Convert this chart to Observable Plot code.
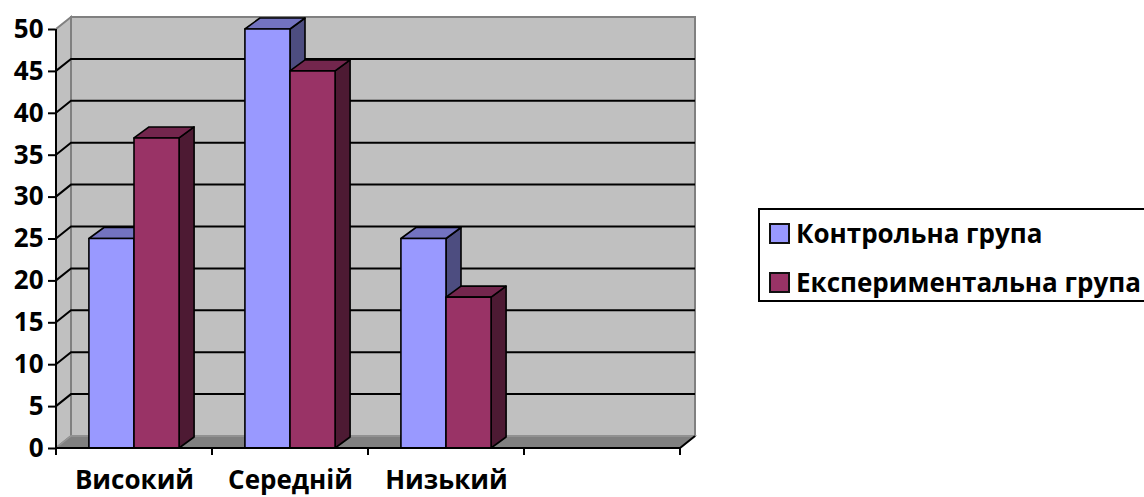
<!DOCTYPE html>
<html>
<head>
<meta charset="utf-8">
<script src="https://cdn.jsdelivr.net/npm/d3@7"></script>
<script src="https://cdn.jsdelivr.net/npm/@observablehq/plot@0.6"></script>
<style>
  html, body { margin: 0; padding: 0; background: #fff; overflow: hidden; }
  #wrap { position: relative; width: 1144px; height: 497px; font-family: "Open Sans", sans-serif; font-weight: bold; overflow: hidden; }
  #chart { position: absolute; left: 0; top: 0; }
  #legend { position: absolute; left: 758px; top: 208px; width: 420px; height: 94px; border: 2px solid #000; box-sizing: border-box; }
  .item { position: absolute; left: 9px; display: flex; align-items: center; white-space: nowrap; font-size: 26px; color: #000; }
  .sw { width: 17px; height: 17px; border: 2px solid #111; margin-right: 6px; }
</style>
</head>
<body>
<div id="wrap"><div id="chart"></div><div id="legend"></div></div>
<script>
const categories = ["Високий", "Середній", "Низький", ""];
const series = ["Контрольна група", "Експериментальна група"];
const control = [25, 50, 25];
const experimental = [37, 45, 18];
const yTicks = [0, 5, 10, 15, 20, 25, 30, 35, 40, 45, 50];
const frontColors = ["#9999FF", "#993366"];
const topColors = ["#7373C0", "#73264D"];
const sideColors = ["#4D4D80", "#4D1A33"];

const values = [control, experimental];
const data = [];
categories.slice(0, 3).forEach((c, i) => {
  series.forEach((s, k) => data.push({category: c, series: s, k, value: values[k][i]}));
});

const WALL = {dx: 15, dy: -12};
const BAR = {dx: 15, dy: -11};
const BAR_START = 0.211, BAR_W = 0.289;

function pts(a) { return a.map(p => p.join(",")).join(" "); }

function walls(index, scales) {
  const x = scales.x, y = scales.y;
  const g = d3.create("svg:g");
  const bw = x.bandwidth();
  const x0 = x(categories[0]), x1 = x(categories[categories.length - 1]) + bw;
  const yb = y(0), yt = y(50);
  const {dx, dy} = WALL;
  g.append("rect").attr("x", x0 + dx).attr("y", yt + dy).attr("width", x1 - x0).attr("height", yb - yt)
    .attr("fill", "#C0C0C0").attr("stroke", "#808080").attr("stroke-width", 2);
  g.append("polygon").attr("points", pts([[x0, yb], [x0, yt], [x0 + dx, yt + dy], [x0 + dx, yb + dy]]))
    .attr("fill", "#C0C0C0").attr("stroke", "#808080").attr("stroke-width", 2);
  g.append("polygon").attr("points", pts([[x0, yb], [x1, yb], [x1 + dx, yb + dy], [x0 + dx, yb + dy]]))
    .attr("fill", "#808080").attr("stroke", "#969696").attr("stroke-width", 1.5);
  g.append("line").attr("x1", x1).attr("y1", yb).attr("x2", x1 + dx).attr("y2", yb + dy)
    .attr("stroke", "#000").attr("stroke-width", 2);
  yTicks.filter(v => v > 0 && v < 50).forEach(v => {
    const yy = y(v);
    g.append("polyline").attr("points", pts([[x0, yy], [x0 + dx, yy + dy], [x1 + dx, yy + dy]]))
      .attr("fill", "none").attr("stroke", "#000").attr("stroke-width", 2);
  });
  return g.node();
}

function bars(index, scales) {
  const x = scales.x, y = scales.y;
  const g = d3.create("svg:g").attr("stroke", "#000").attr("stroke-width", 1.6).attr("stroke-linejoin", "round");
  const bw = x.bandwidth();
  const {dx, dy} = BAR;
  data.forEach(d => {
    const l = x(d.category) + bw * (BAR_START + d.k * BAR_W);
    const r = l + bw * BAR_W;
    const t = y(d.value), b = y(0);
    g.append("polygon").attr("points", pts([[r, b], [r, t], [r + dx, t + dy], [r + dx, b + dy]])).attr("fill", sideColors[d.k]);
    g.append("polygon").attr("points", pts([[l, t], [r, t], [r + dx, t + dy], [l + dx, t + dy]])).attr("fill", topColors[d.k]);
    g.append("rect").attr("x", l).attr("y", t).attr("width", r - l).attr("height", b - t).attr("fill", frontColors[d.k]);
  });
  return g.node();
}

function frontAxes(index, scales) {
  const x = scales.x, y = scales.y;
  const g = d3.create("svg:g").attr("stroke", "#000").attr("stroke-width", 2);
  const bw = x.bandwidth();
  const x0 = x(categories[0]), x1 = x(categories[categories.length - 1]) + bw;
  g.append("line").attr("x1", x0).attr("x2", x0).attr("y1", y(50)).attr("y2", y(0) + 1);
  g.append("line").attr("x1", x0).attr("x2", x1).attr("y1", y(0)).attr("y2", y(0));
  categories.forEach(c => {
    const xx = x(c);
    g.append("line").attr("x1", xx).attr("x2", xx).attr("y1", y(0)).attr("y2", y(0) + 7);
  });
  g.append("line").attr("x1", x1).attr("x2", x1).attr("y1", y(0)).attr("y2", y(0) + 7);
  return g.node();
}

const chart = Plot.plot({
  width: 1144,
  height: 497,
  marginLeft: 55,
  marginRight: 463,
  marginTop: 29,
  marginBottom: 49,
  style: {fontFamily: "'Open Sans', sans-serif", fontWeight: "bold", color: "#000", background: "transparent", overflow: "visible"},
  x: {type: "band", domain: categories, padding: 0, axis: null},
  y: {domain: [0, 50], axis: null},
  marks: [
    walls,
    bars,
    frontAxes,
    Plot.axisY({ticks: yTicks, tickSize: 7, tickPadding: 5, fontSize: 26, fontWeight: "bold", strokeWidth: 2, tickFormat: d => String(d)}),
    Plot.axisX({tickSize: 0, tickPadding: 22, fontSize: 26, fontWeight: "bold", tickFormat: d => d})
  ]
});
document.getElementById("chart").appendChild(chart);

const legend = document.getElementById("legend");
series.forEach((s, k) => {
  const item = document.createElement("div");
  item.className = "item";
  item.style.top = (k === 0 ? 5 : 54) + "px";
  const sw = document.createElement("div");
  sw.className = "sw";
  sw.style.background = frontColors[k];
  const label = document.createElement("span");
  label.textContent = s;
  item.appendChild(sw);
  item.appendChild(label);
  legend.appendChild(item);
});
</script>
</body>
</html>
